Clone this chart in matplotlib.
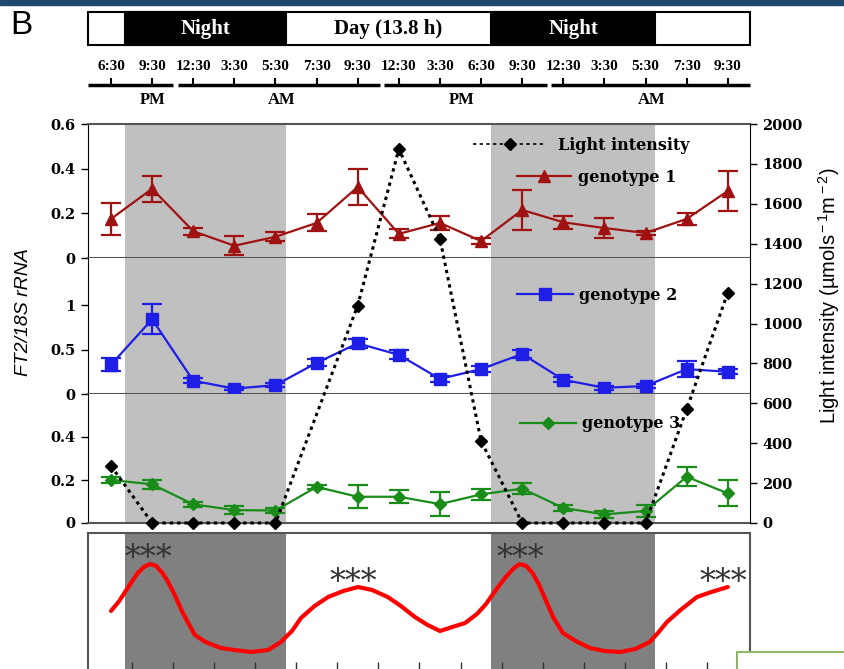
import matplotlib
matplotlib.use("Agg")
import matplotlib.pyplot as plt
from matplotlib.patches import Rectangle
from matplotlib.lines import Line2D
import numpy as np

plt.rcParams['mathtext.fontset'] = 'custom'
plt.rcParams['mathtext.rm'] = 'Liberation Sans'
plt.rcParams['mathtext.it'] = 'Liberation Sans:italic'

# sampling times (plotted as equally spaced categories)
times = ["6:30", "9:30", "12:30", "3:30", "5:30", "7:30", "9:30", "12:30",
         "3:30", "6:30", "9:30", "12:30", "3:30", "5:30", "7:30", "9:30"]
x = np.arange(len(times))

g1 = [0.175, 0.31, 0.12, 0.055, 0.095, 0.157, 0.318, 0.108, 0.157, 0.076,
      0.215, 0.16, 0.134, 0.112, 0.175, 0.30]
g1_err = [0.07, 0.058, 0.015, 0.042, 0.02, 0.038, 0.08, 0.02, 0.03, 0.015,
          0.09, 0.028, 0.045, 0.01, 0.025, 0.09]
g2 = [0.33, 0.84, 0.15, 0.06, 0.10, 0.35, 0.57, 0.44, 0.17, 0.28,
      0.45, 0.16, 0.07, 0.09, 0.28, 0.25]
g2_err = [0.07, 0.17, 0.03, 0.02, 0.02, 0.04, 0.05, 0.05, 0.03, 0.03,
          0.04, 0.03, 0.02, 0.02, 0.09, 0.03]
g3 = [0.2, 0.18, 0.087, 0.06, 0.058, 0.168, 0.122, 0.122, 0.088, 0.133,
      0.16, 0.07, 0.04, 0.056, 0.215, 0.138]
g3_err = [0.012, 0.022, 0.012, 0.02, 0.012, 0.01, 0.053, 0.03, 0.056, 0.025,
          0.025, 0.012, 0.015, 0.03, 0.045, 0.06]
light = [286, 0, 0, 0, 0, np.nan, 1090, 1875, 1425, 411,
         0, 0, 0, 0, 571, 1155]

# smoothed expression trace of the lower panel
trace_x = [0, 0.2, 0.34, 0.5, 0.65, 0.8, 0.95, 1.1, 1.25, 1.39, 1.55, 1.7, 1.85,
           2.04, 2.3, 2.67, 3.0, 3.4, 3.82, 4.13, 4.4, 4.62, 4.95, 5.28, 5.65,
           6.01, 6.35, 6.73, 7.05, 7.39, 7.7, 8.0, 8.3, 8.61, 8.9, 9.12, 9.29,
           9.45, 9.6, 9.8, 9.94, 10.1, 10.25, 10.4, 10.55, 10.75, 10.99, 11.3,
           11.65, 12.0, 12.38, 12.75, 13.1, 13.3, 13.52, 13.85, 14.25, 14.6, 15.0]
trace_y = [61, 71, 80, 90, 99, 105, 108, 106, 99, 90, 77, 63, 51,
           37, 30, 24, 22, 20, 22, 30, 41, 54, 66, 75, 81,
           85, 82, 75, 66, 55, 47, 41, 45, 49, 58, 68, 78,
           87, 95, 104, 108, 106, 99, 88, 74, 55, 39, 31,
           24, 21, 20, 23, 30, 39, 50, 62, 75, 80, 85]
star_x = [0.9, 5.9, 9.95, 14.9]
star_y = [114, 89, 114, 89]

night_spans = [(0.33, 4.25), (9.24, 13.24)]
day_segments = [(-0.56, 1.51), (1.63, 6.54), (6.64, 10.6), (10.7, 15.54)]
ampm = ["PM", "AM", "PM", "AM"]
ampm_x = [1.0, 4.16, 8.53, 13.15]

W, H = 845, 669
xlim = (-0.56, 15.54)


def box(x0, y0, x1, y1):
    return [x0 / W, 1 - y1 / H, (x1 - x0) / W, (y1 - y0) / H]


tickfont = dict(family='DejaVu Serif', weight='bold', size=10.5)
legfont = dict(family='DejaVu Serif', weight='bold', size=11.5)
sep_color = '#555555'

fig = plt.figure(figsize=(W / 100, H / 100), dpi=100)

# decoration of the slide the figure was cut from
fig.patches.append(Rectangle((0, 1 - 5 / H), 1, 5 / H, transform=fig.transFigure,
                             color='#1F4A6E', zorder=0))
fig.patches.append(Rectangle((737 / W, -0.01), 0.2, 17 / H + 0.01, transform=fig.transFigure,
                             fc='white', ec='#8FB56A', lw=1.5, zorder=10))

fig.text(10 / W, 1 - 26 / H, "B", family='Liberation Sans', fontsize=24,
         ha='left', va='center')

# header with night/day bar and clock times
axH = fig.add_axes(box(88, 8, 750, 110))
axH.set_xlim(xlim)
axH.set_ylim(110, 8)
axH.axis('off')
axH.add_patch(Rectangle((xlim[0], 12), xlim[1] - xlim[0], 33, fc='white', ec='black',
                        lw=1.5, clip_on=False))
for a, b in night_spans:
    axH.add_patch(Rectangle((a, 12), b - a, 33, fc='black', ec='black', lw=1.5))
    axH.text((a + b) / 2, 29, "Night", color='white', family='Liberation Serif',
             weight='bold', fontsize=15, ha='center', va='center')
axH.text((night_spans[0][1] + night_spans[1][0]) / 2, 29, "Day (13.8 h)", color='black',
         family='Liberation Serif', weight='bold', fontsize=15, ha='center', va='center')
for i, t in zip(x, times):
    axH.text(i, 67, t, family='Liberation Serif', weight='bold', fontsize=11,
             ha='center', va='center')
axH.vlines(x, 78, 85, color='black', lw=1.5)
for a, b in day_segments:
    axH.plot([a, b], [85, 85], color='black', lw=2.5, solid_capstyle='butt', clip_on=False)
for lab, px in zip(ampm, ampm_x):
    axH.text(px, 100, lab, family='Liberation Serif', weight='bold', fontsize=12,
             ha='center', va='center')

# three expression panels
panels = [
    (box(88, 124, 750, 258), g1, g1_err, 0.6, [0, 0.2, 0.4, 0.6], ['0', '0.2', '0.4', '0.6'],
     '#A01212', '^', 8.5, "genotype 1", (517, 177), 3.4, 0.4),
    (box(88, 258, 750, 394), g2, g2_err, 1.53, [0, 0.5, 1], ['0', '0.5', '1'],
     '#1E1EE6', 's', 8.5, "genotype 2", (517, 295), 3.5, 0.4),
    (box(88, 394, 750, 523), g3, g3_err, 0.6, [0, 0.2, 0.4], ['0', '0.2', '0.4'],
     '#1A8C1A', 'D', 6.5, "genotype 3", (520, 424), 3.5, 0.4),
]
for k, (pos, vals, errs, ymax, yt, ytl, col, mk, ms, lab, lpos, hl, hp) in enumerate(panels):
    ax = fig.add_axes(pos, zorder=1)
    ax.set_xlim(xlim)
    ax.set_ylim(0, ymax)
    for a, b in night_spans:
        ax.axvspan(a, b, color='#C0C0C0', lw=0, zorder=0)
    ax.errorbar(x, vals, yerr=errs, color=col, marker=mk, ms=ms, lw=1.6, elinewidth=1.6,
                capsize=7, capthick=1.6, zorder=3, clip_on=False)
    ax.set_xticks([])
    ax.set_yticks(yt)
    ax.set_yticklabels(ytl, fontdict=tickfont)
    ax.tick_params(axis='y', direction='out', length=5, width=1, pad=4)
    ax.spines['right'].set_visible(False)
    ax.spines['left'].set_color('black')
    ax.spines['bottom'].set_color(sep_color)
    ax.spines['bottom'].set_linewidth(1.5)
    if k == 0:
        ax.spines['top'].set_color(sep_color)
        ax.spines['top'].set_linewidth(1.5)
    else:
        ax.spines['top'].set_visible(False)
    h = Line2D([], [], color=col, marker=mk, ms=ms, lw=1.6)
    ax.legend([h], [lab], loc='center left', bbox_to_anchor=(lpos[0] / W, 1 - lpos[1] / H),
              bbox_transform=fig.transFigure, frameon=False, borderpad=0, borderaxespad=0,
              handlelength=hl, handletextpad=hp, numpoints=1, prop=legfont)

# light intensity on the right axis, over all three panels
axL = fig.add_axes(box(88, 124, 750, 523), facecolor='none', zorder=5)
axL.set_xlim(xlim)
axL.set_ylim(0, 2000)
for s in ['left', 'top', 'bottom']:
    axL.spines[s].set_visible(False)
axL.set_xticks([])
axL.yaxis.tick_right()
axL.set_yticks(np.arange(0, 2001, 200))
axL.set_yticklabels([str(v) for v in range(0, 2001, 200)], fontdict=tickfont)
axL.tick_params(axis='y', direction='out', length=5, width=1, pad=4)
light = np.array(light, dtype=float)
ok = np.isfinite(light)
lstyle = (0, (1.1, 1.3))
axL.plot(x[ok], light[ok], color='black', ls=lstyle, lw=2.2, marker='D', ms=6.5,
         clip_on=False)
hL = Line2D([], [], color='black', ls=(0, (2, 2)), lw=1.2, marker='D', ms=6.5)
axL.legend([hL], ["Light intensity"], loc='center left', bbox_to_anchor=(473 / W, 1 - 145 / H),
           bbox_transform=fig.transFigure, frameon=False, borderpad=0, borderaxespad=0,
           handlelength=4.6, handletextpad=0.7, numpoints=1, prop=legfont)

fig.text(24 / W, 1 - 312 / H, "FT2/18S rRNA", family='Liberation Sans', style='italic',
         fontsize=14, rotation=90, ha='center', va='center')
fig.text(829 / W, 1 - 296 / H, r"Light intensity (µmols$^{\rm -1}$m$^{\rm -2}$)",
         family='Liberation Sans', fontsize=14.5, rotation=90, ha='center', va='center')

# lower panel with the smoothed trace
axB = fig.add_axes(box(88, 533, 750, 672))
axB.set_xlim(xlim)
axB.set_ylim(0, 139)
for a, b in night_spans:
    axB.axvspan(a, b, color='#808080', lw=0, zorder=0)
axB.plot(trace_x, trace_y, color='#FF0000', lw=3, solid_capstyle='round',
         solid_joinstyle='round')
for sx, sy in zip(star_x, star_y):
    axB.text(sx, sy, "***", family='DejaVu Serif', fontsize=23, color='#333333',
             ha='center', va='center')
axB.set_yticks([])
axB.set_xticks(x[:-1] + 0.5)
axB.set_xticklabels([])
axB.tick_params(axis='x', direction='in', length=7, width=1, color='#333333')
for s in axB.spines.values():
    s.set_color(sep_color)
    s.set_linewidth(1.5)

fig.savefig("out.png", dpi=100)
